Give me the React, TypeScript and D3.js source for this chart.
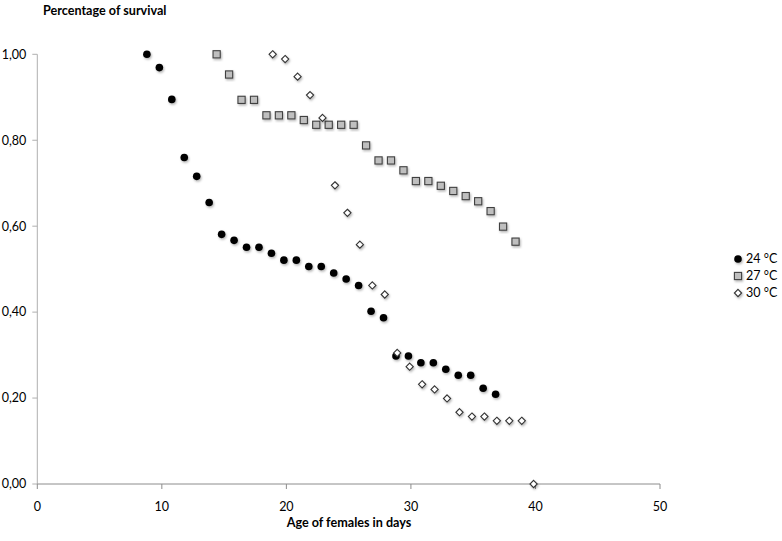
import React from "react";
import * as d3 from "d3";

const days24 = [8.8, 9.8, 10.8, 11.8, 12.8, 13.8, 14.8, 15.8, 16.8, 17.8, 18.8, 19.8, 20.8, 21.8, 22.8, 23.8, 24.8, 25.8, 26.8, 27.8, 28.8, 29.8, 30.8, 31.8, 32.8, 33.8, 34.8, 35.8, 36.8];
const surv24 = [1.0, 0.969, 0.895, 0.76, 0.716, 0.655, 0.581, 0.567, 0.551, 0.551, 0.537, 0.521, 0.521, 0.506, 0.506, 0.491, 0.477, 0.462, 0.402, 0.387, 0.298, 0.298, 0.282, 0.282, 0.267, 0.253, 0.253, 0.223, 0.209];

const days27 = [14.4, 15.4, 16.4, 17.4, 18.4, 19.4, 20.4, 21.4, 22.4, 23.4, 24.4, 25.4, 26.4, 27.4, 28.4, 29.4, 30.4, 31.4, 32.4, 33.4, 34.4, 35.4, 36.4, 37.4, 38.4];
const surv27 = [1.0, 0.953, 0.894, 0.894, 0.858, 0.858, 0.858, 0.847, 0.836, 0.836, 0.836, 0.836, 0.788, 0.753, 0.753, 0.73, 0.705, 0.705, 0.694, 0.682, 0.67, 0.658, 0.635, 0.599, 0.564];

const days30 = [18.9, 19.9, 20.9, 21.9, 22.9, 23.9, 24.9, 25.9, 26.9, 27.9, 28.9, 29.9, 30.9, 31.9, 32.9, 33.9, 34.9, 35.9, 36.9, 37.9, 38.9, 39.85];
const surv30 = [1.0, 0.989, 0.948, 0.905, 0.852, 0.695, 0.631, 0.557, 0.462, 0.441, 0.305, 0.273, 0.232, 0.22, 0.199, 0.167, 0.157, 0.157, 0.147, 0.147, 0.147, 0.0];

const seriesNames = ["24 °C", "27 °C", "30 °C"];
const xTicks = [0, 10, 20, 30, 40, 50];
const yTicks = [0, 0.2, 0.4, 0.6, 0.8, 1.0];

const FONT = "Lato, 'Open Sans', sans-serif";

function Marker({ kind, x, y }: { kind: number; x: number; y: number }) {
  if (kind === 0) {
    return <circle cx={x} cy={y} r={3.8} fill="#000" filter="url(#sh)" />;
  }
  if (kind === 1) {
    return (
      <rect x={x - 3.6} y={y - 3.6} width={7.2} height={7.2} fill="#bfbfbf" stroke="#404040" strokeWidth={1.1} filter="url(#sh)" />
    );
  }
  const s = 3.6;
  return (
    <path
      d={`M${x},${y - s}L${x + s},${y}L${x},${y + s}L${x - s},${y}Z`}
      fill="#fff"
      stroke="#333"
      strokeWidth={1.1}
      filter="url(#sh)"
    />
  );
}

export default function App() {
  const W = 782;
  const H = 541;
  const x = d3.scaleLinear().domain([0, 50]).range([37.3, 660]);
  const y = d3.scaleLinear().domain([0, 1]).range([484, 54.3]);
  const fmt = (v: number) => d3.format(".2f")(v).replace(".", ",");

  const series = [
    { d: days24, s: surv24 },
    { d: days27, s: surv27 },
    { d: days30, s: surv30 },
  ];

  const legendX = 738;
  const legendY = [259, 276, 293];

  return (
    <svg width={W} height={H} style={{ position: "absolute", left: 0, top: 0, background: "#fff" }} fontFamily={FONT}>
      <defs>
        <filter id="sh" x="-50%" y="-50%" width="200%" height="200%">
          <feDropShadow dx={1} dy={1.5} stdDeviation={1} floodColor="#000" floodOpacity={0.3} />
        </filter>
      </defs>
      <rect width={W} height={H} fill="#fff" />
      <line x1={x(0)} x2={x(0)} y1={y(1)} y2={y(0)} stroke="#b0b0b0" strokeWidth={1} />
      {yTicks.map((t) => (
        <g key={t}>
          <line x1={x(0) - 5} x2={x(0)} y1={y(t)} y2={y(t)} stroke="#b0b0b0" />
          <text x={x(0) - 11} y={y(t)} dy="0.35em" textAnchor="end" fontSize={12.5} fill="#000">
            {fmt(t)}
          </text>
        </g>
      ))}
      <line x1={x(0)} x2={x(50)} y1={y(0)} y2={y(0)} stroke="#8c8c8c" strokeWidth={1} />
      {xTicks.map((t) => (
        <g key={t}>
          <line x1={x(t)} x2={x(t)} y1={y(0)} y2={y(0) + 5} stroke="#8c8c8c" />
          <text x={x(t)} y={y(0) + 27} textAnchor="middle" fontSize={12.5} fill="#000">
            {t}
          </text>
        </g>
      ))}
      <text x={43} y={15} fontSize={12.6} fontWeight="bold" fill="#000">
        Percentage of survival
      </text>
      <text x={349} y={527} textAnchor="middle" fontSize={12.6} fontWeight="bold" fill="#000">
        Age of females in days
      </text>
      {series.map((sr, k) => (
        <g key={k}>
          {sr.d.map((dv, i) => (
            <Marker key={i} kind={k} x={x(dv)} y={y(sr.s[i])} />
          ))}
        </g>
      ))}
      {seriesNames.map((n, k) => (
        <g key={n}>
          <Marker kind={k} x={legendX} y={legendY[k]} />
          <text x={legendX + 8} y={legendY[k]} dy="0.35em" fontSize={12.5} fill="#000">
            {n}
          </text>
        </g>
      ))}
    </svg>
  );
}
